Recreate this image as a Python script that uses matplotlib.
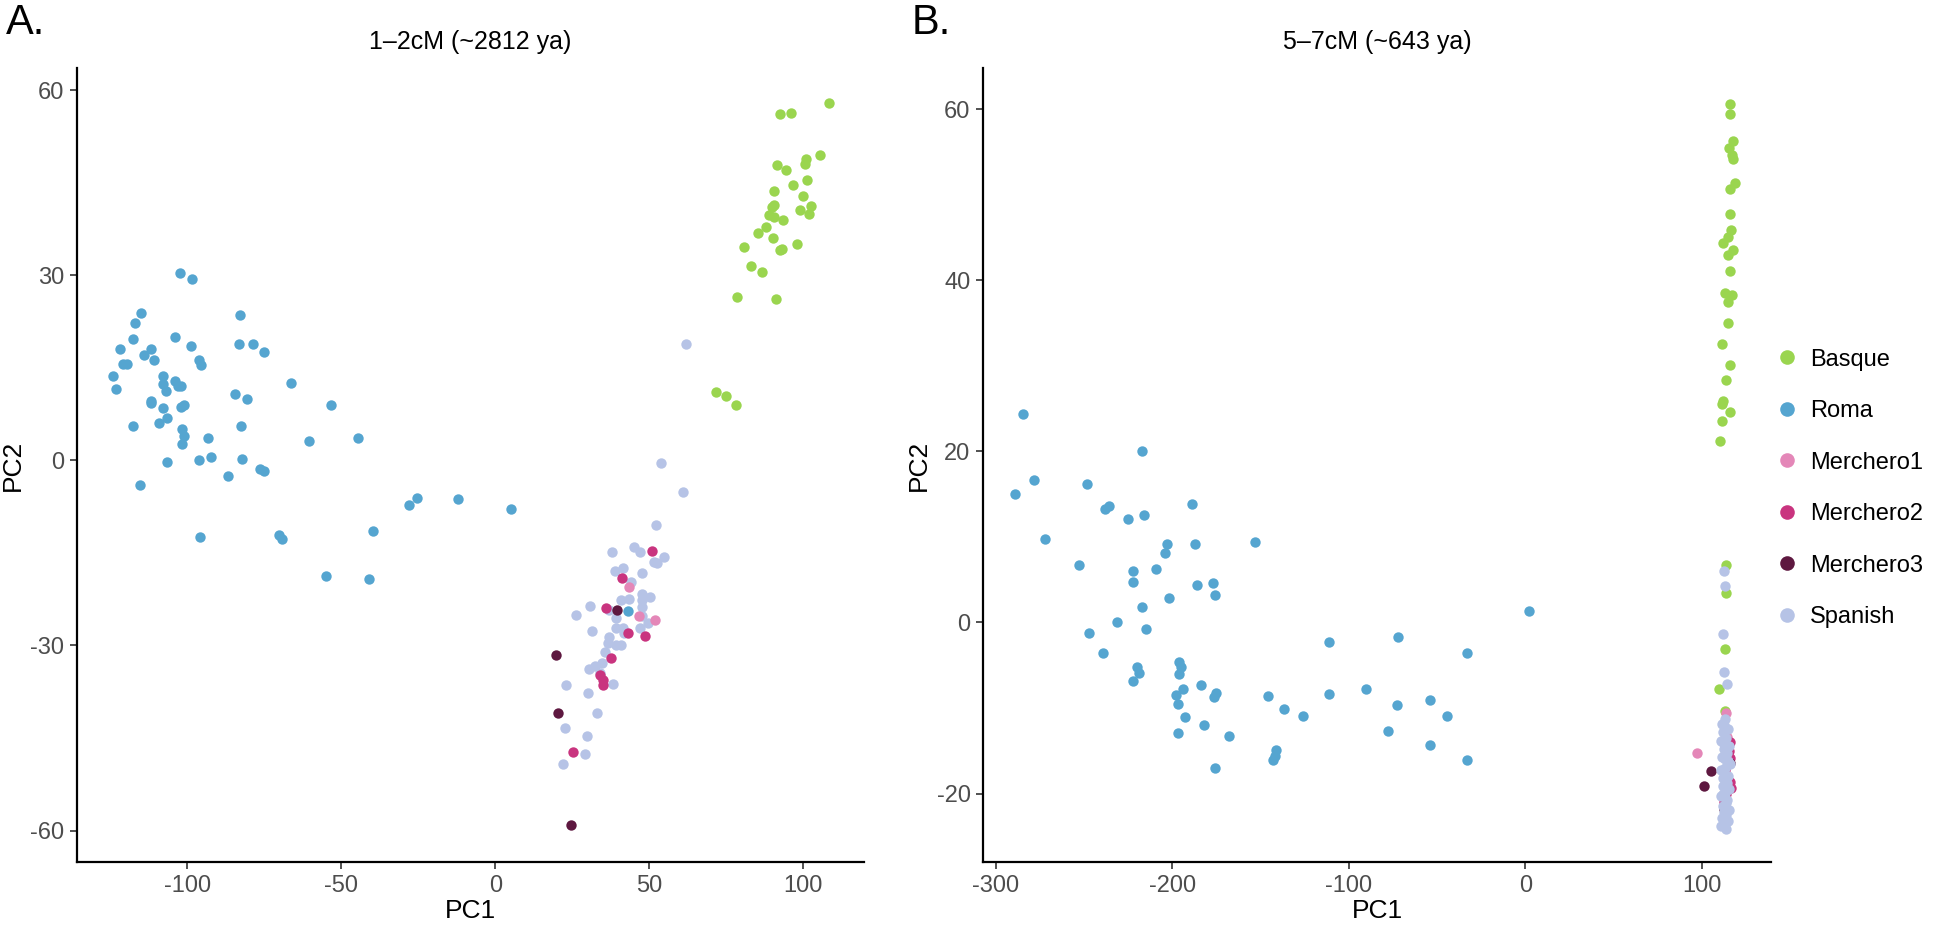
import matplotlib.pyplot as plt
from matplotlib.lines import Line2D

plt.rcParams['font.family'] = ['Liberation Sans', 'DejaVu Sans']

groups = ['Basque', 'Roma', 'Merchero1', 'Merchero2', 'Merchero3', 'Spanish']
colors = ['#9AD54F', '#55A5D0', '#E487B8', '#C9347F', '#5E1840', '#B6C3E6']

# panel A: 1-2cM
basque_a = [(108.3, 57.9), (92.4, 56.2), (96.2, 56.3), (105.6, 49.5), (101.0, 48.9),
            (100.6, 48.1), (91.6, 47.8), (94.5, 47.0), (101.4, 45.4), (96.8, 44.7),
            (90.5, 43.6), (99.9, 42.9), (90.6, 41.4), (89.9, 41.1), (102.5, 41.2),
            (98.9, 40.6), (101.8, 40.0), (88.8, 39.7), (90.6, 39.4), (93.6, 38.9),
            (87.9, 37.8), (85.3, 36.9), (90.4, 36.0), (80.7, 34.6), (92.4, 34.1),
            (93.1, 34.2), (97.9, 35.0), (83.0, 31.5), (86.6, 30.6), (78.4, 26.5),
            (91.1, 26.2), (71.6, 11.1), (75.1, 10.5), (78.2, 8.9)]
roma_a = [(-102.5, 30.3), (-98.5, 29.4), (-115.0, 23.9), (-82.9, 23.5), (-117.2, 22.2),
          (-117.8, 19.7), (-103.9, 20.0), (-98.9, 18.5), (-83.1, 18.8), (-78.8, 18.8),
          (-75.2, 17.6), (-121.9, 18.1), (-112.0, 18.1), (-114.1, 17.0), (-110.9, 16.2),
          (-121.0, 15.6), (-119.5, 15.6), (-96.3, 16.2), (-95.7, 15.4), (-124.3, 13.7),
          (-108.1, 13.7), (-123.3, 11.5), (-108.1, 12.3), (-107.0, 11.3), (-104.1, 12.8),
          (-103.0, 12.1), (-102.0, 12.0), (-66.4, 12.5), (-84.7, 10.7), (-80.7, 10.0),
          (-53.2, 9.0), (-111.8, 9.6), (-111.9, 9.3), (-108.1, 8.5), (-102.0, 8.6),
          (-101.1, 9.0), (-106.8, 6.8), (-117.8, 5.6), (-109.1, 6.0), (-82.5, 5.6),
          (-101.9, 5.1), (-101.0, 4.0), (-93.2, 3.6), (-101.7, 2.7), (-60.4, 3.1),
          (-44.5, 3.6), (-106.6, -0.2), (-96.1, 0.1), (-92.3, 0.6), (-82.4, 0.2),
          (-86.9, -2.6), (-76.4, -1.4), (-75.0, -1.8), (-115.4, -4.0), (-28.1, -7.3),
          (-25.5, -6.1), (-12.0, -6.2), (5.2, -7.9), (-96.0, -12.5), (-70.1, -12.1),
          (-69.2, -12.7), (-39.7, -11.4), (-55.0, -18.7), (-41.1, -19.3), (43.2, -24.4)]
merch1_a = [(43.6, -20.6), (46.6, -25.3), (52.0, -25.9)]
merch2_a = [(50.8, -14.7), (41.2, -19.0), (36.0, -24.0), (43.2, -28.0), (48.8, -28.4),
            (37.5, -32.0), (34.0, -34.8), (35.0, -35.6), (35.0, -36.4), (25.4, -47.2)]
merch3_a = [(39.5, -24.2), (19.6, -31.6), (20.5, -41.0), (24.6, -59.1)]
spanish_a = [(62.0, 18.9), (53.8, -0.5), (60.9, -5.1), (52.4, -10.5), (37.9, -14.9),
             (45.1, -14.0), (47.2, -14.9), (54.8, -15.7), (51.6, -16.5), (52.6, -16.7),
             (38.8, -18.0), (41.5, -17.4), (47.7, -18.3), (44.0, -19.7), (47.6, -21.7),
             (50.4, -22.1), (40.8, -22.6), (43.5, -22.4), (47.8, -22.7), (47.8, -23.7),
             (30.7, -23.6), (26.1, -25.1), (36.9, -24.2), (47.6, -25.3), (39.1, -25.6),
             (49.7, -26.4), (47.0, -27.2), (39.1, -27.2), (41.6, -27.2), (31.3, -27.6),
             (41.8, -28.0), (37.1, -28.6), (36.7, -29.6), (39.2, -30.0), (40.8, -30.0),
             (35.6, -31.0), (34.6, -32.9), (32.4, -33.3), (30.5, -33.8), (34.0, -34.4),
             (38.3, -36.3), (23.1, -36.4), (30.0, -37.7), (33.1, -40.9), (22.6, -43.4),
             (29.8, -44.6), (29.1, -47.6), (22.0, -49.2)]

# panel B: 5-7cM
basque_b = [(115.8, 60.6), (115.6, 59.4), (117.6, 56.3), (115.0, 55.5), (117.0, 54.6),
            (117.6, 54.2), (118.7, 51.3), (115.6, 50.7), (115.8, 47.7), (116.1, 45.9),
            (114.7, 45.1), (112.1, 44.3), (117.6, 43.5), (114.4, 42.9), (115.8, 41.1),
            (112.9, 38.5), (117.1, 38.3), (114.9, 37.5), (114.6, 35.0), (111.0, 32.5),
            (115.8, 30.1), (113.5, 28.3), (112.0, 25.9), (111.4, 25.5), (115.8, 24.6),
            (111.2, 23.6), (110.1, 21.2), (113.3, 6.7), (113.7, 3.4), (112.9, -3.1),
            (109.5, -7.8), (112.8, -10.4)]
roma_b = [(-284.5, 24.4), (-289.0, 15.0), (-278.0, 16.7), (-272.0, 9.8), (-248.0, 16.2),
          (-238.0, 13.3), (-236.0, 13.6), (-225.0, 12.1), (-217.2, 20.0), (-216.0, 12.6),
          (-189.0, 13.8), (-153.0, 9.4), (-253.0, 6.7), (-222.0, 6.0), (-222.5, 4.7),
          (-203.0, 9.2), (-204.0, 8.1), (-187.0, 9.2), (-209.0, 6.2), (-202.0, 2.9),
          (-217.0, 1.8), (-231.0, 0.1), (-186.0, 4.4), (-177.0, 4.6), (-176.0, 3.2),
          (-247.0, -1.2), (-239.0, -3.6), (-222.0, -6.9), (-220.0, -5.2), (-219.0, -5.9),
          (-215.0, -0.8), (-196.0, -4.6), (-195.0, -5.2), (-196.0, -6.0), (-194.0, -7.8),
          (-184.0, -7.3), (-175.0, -8.2), (-176.5, -8.7), (-198.0, -8.5), (-197.0, -9.5),
          (-193.0, -11.1), (-197.0, -12.9), (-182.0, -12.0), (-168.0, -13.3), (-176.0, -17.0),
          (-146.0, -8.6), (-137.0, -10.1), (-126.0, -10.9), (-141.0, -14.9), (-142.0, -15.6),
          (-143.0, -16.1), (-111.0, -2.3), (-111.0, -8.4), (-90.1, -7.8), (-77.7, -12.7),
          (-72.8, -9.7), (-72.0, -1.7), (-54.3, -9.1), (-53.9, -14.3), (-44.3, -10.9),
          (-33.3, -3.6), (-32.9, -16.1), (1.8, 1.3)]
merch1_b = [(97.0, -15.3), (113.6, -10.6), (114.0, -13.4)]
merch2_b = [(115.8, -14.0), (116.0, -15.8), (112.9, -17.2), (115.9, -18.6), (113.5, -20.0),
            (116.2, -19.4), (115.4, -15.0), (112.4, -21.0)]
merch3_b = [(101.0, -19.1), (104.8, -17.4), (115.6, -16.4), (112.5, -21.8)]
spanish_b = [(112.6, 6.0), (112.9, 4.3), (111.8, -1.4), (112.4, -5.8), (113.9, -7.2),
             (113.2, -11.3), (111.5, -11.9), (114.8, -12.4), (112.0, -12.8), (113.6, -13.5),
             (110.8, -13.9), (115.1, -14.4), (112.3, -14.8), (114.0, -15.3), (111.2, -15.7),
             (113.0, -16.0), (115.6, -16.6), (112.7, -17.0), (110.5, -17.3), (114.4, -17.9),
             (112.1, -18.2), (113.8, -18.6), (111.6, -19.1), (115.0, -19.5), (112.9, -19.9),
             (110.9, -20.3), (114.2, -20.8), (113.3, -21.1), (111.9, -21.4), (115.4, -21.9),
             (112.5, -22.2), (113.7, -22.5), (111.3, -22.9), (114.6, -23.2), (112.8, -23.6),
             (110.7, -23.8), (113.5, -24.1), (112.2, -12.0), (114.9, -16.2), (111.7, -20.0),
             (113.1, -22.7), (112.4, -14.2), (114.1, -18.8)]

panel_a = [basque_a, roma_a, merch1_a, merch2_a, merch3_a, spanish_a]
panel_b = [basque_b, roma_b, merch1_b, merch2_b, merch3_b, spanish_b]

fig = plt.figure(figsize=(19.44, 9.30), dpi=100)
ax1 = fig.add_axes([0.0396, 0.0731, 0.4048, 0.8538])
ax2 = fig.add_axes([0.5057, 0.0731, 0.4053, 0.8538])


def draw(ax, data, order, title, xlim, ylim, xticks, yticks):
    for i in order:
        xs = [p[0] for p in data[i]]
        ys = [p[1] for p in data[i]]
        ax.scatter(xs, ys, s=56, color=colors[i], linewidths=0, zorder=3)
    ax.set_xlim(*xlim)
    ax.set_ylim(*ylim)
    ax.set_xticks(xticks)
    ax.set_yticks(yticks)
    ax.set_xticklabels([str(t) for t in xticks])
    ax.set_yticklabels([str(t) for t in yticks])
    for s in ['top', 'right']:
        ax.spines[s].set_visible(False)
    for s in ['left', 'bottom']:
        ax.spines[s].set_linewidth(1.6)
    ax.tick_params(labelsize=17, labelcolor='#4D4D4D', length=5, width=1.2,
                   color='#333333', pad=4)
    ax.set_xlabel('PC1', fontsize=19, labelpad=2)
    ax.set_ylabel('PC2', fontsize=19, labelpad=4)
    ax.set_title(title, fontsize=18, pad=14)


draw(ax1, panel_a, [0, 1, 5, 2, 3, 4], '1–2cM (~2812 ya)', (-135.9, 119.8), (-65.1, 63.6),
     [-100, -50, 0, 50, 100], [-60, -30, 0, 30, 60])
draw(ax2, panel_b, [0, 1, 2, 3, 4, 5], '5–7cM (~643 ya)', (-307.1, 139.0), (-28.0, 64.8),
     [-300, -200, -100, 0, 100], [-20, 0, 20, 40, 60])

fig.text(0.003, 0.975, 'A.', fontsize=30, va='center', ha='left')
fig.text(0.469, 0.975, 'B.', fontsize=30, va='center', ha='left')

handles = [Line2D([], [], marker='o', linestyle='', markersize=10.5,
                  markerfacecolor=c, markeredgewidth=0) for c in colors]
fig.legend(handles, groups, loc='upper left', bbox_to_anchor=(0.902, 0.648),
           frameon=False, fontsize=17, labelspacing=1.25, handletextpad=0.5,
           handlelength=1.0)

fig.savefig('out.png', dpi=100)
